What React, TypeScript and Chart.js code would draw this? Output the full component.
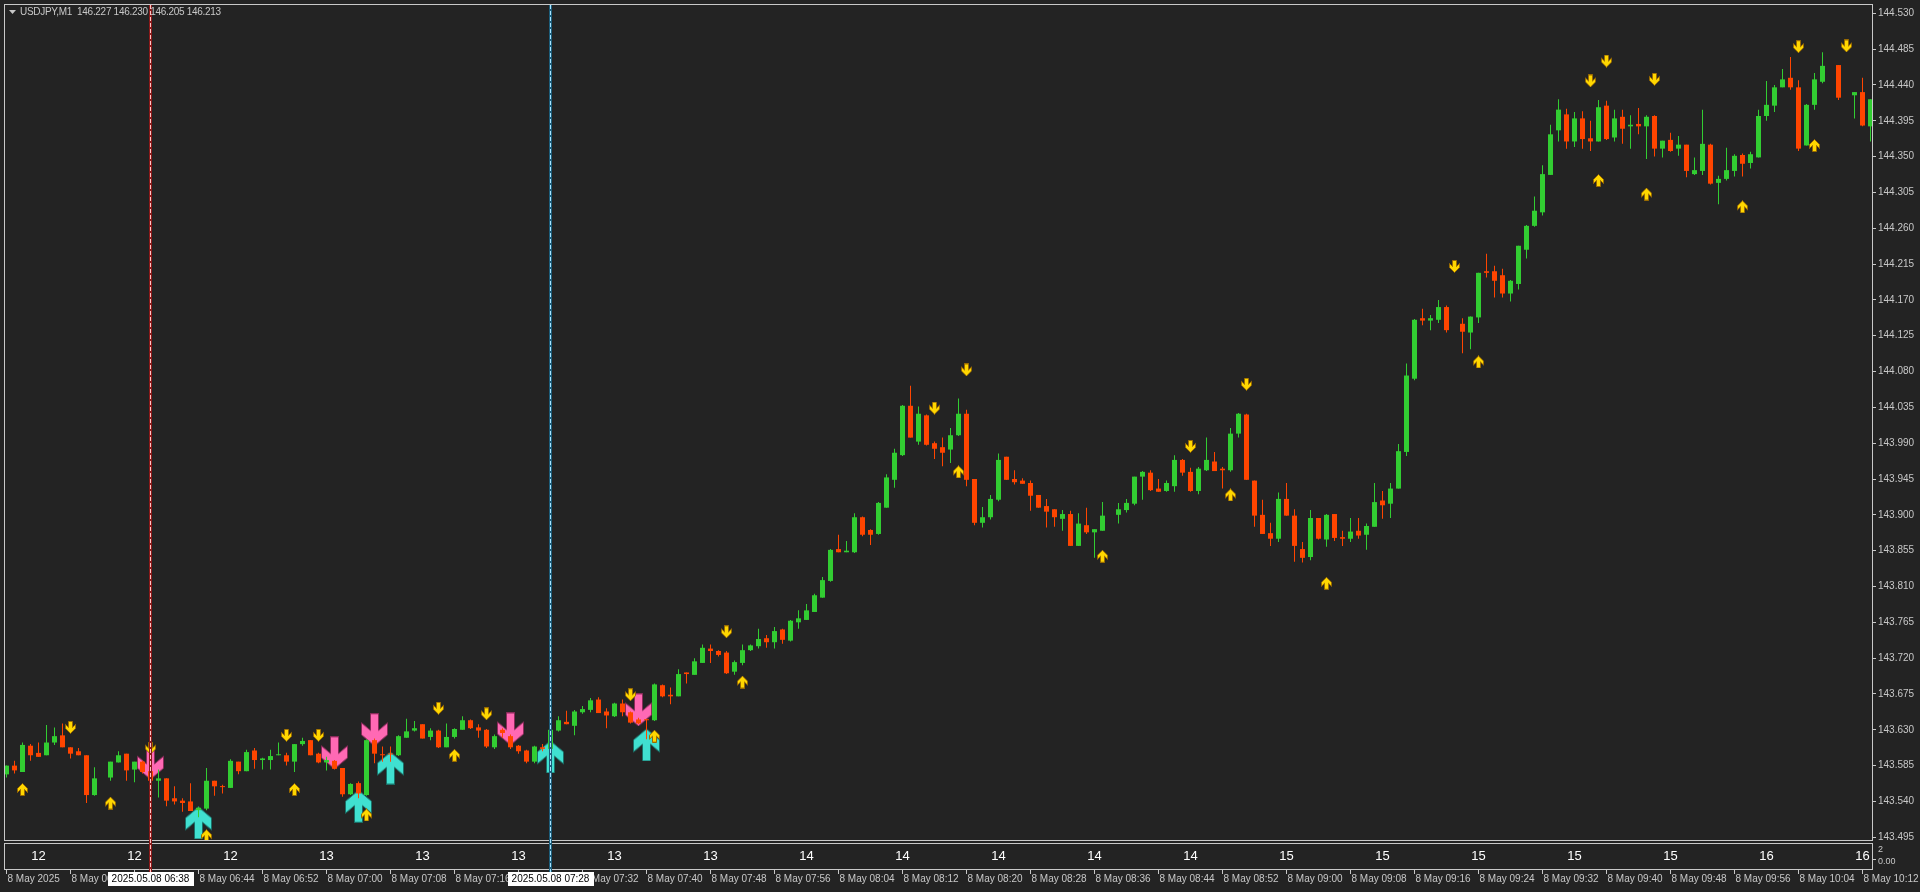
import { useEffect, useRef } from "react";
import { Chart, registerables } from "chart.js";

Chart.register(...registerables);

// ---------- DATA ----------
const headerText = "USDJPY,M1  146.227 146.230 146.205 146.213";

// one-minute bars, index 0 = 06:20 ... 233 = 10:13 (null = no bar drawn)
const opens: (number | null)[] = [
  143.574, 143.585, 143.577, 143.610, 143.601, 143.598, 143.614, 143.623, 143.608, 143.603,
  143.598, 143.548, null, 143.570, 143.589, 143.600, 143.580, 143.590, 143.578, 143.566,
  143.569, 143.544, 143.541, 143.540, 143.529, 143.531, 143.566, 143.559, 143.557, 143.590,
  143.578, 143.604, 143.592, 143.592, 143.598, 143.598, 143.590, 143.612, 143.617, 143.600,
  143.589, 143.591, 143.582, 143.549, 143.563, 143.548, 143.617, 143.599, 143.600, 143.598,
  143.620, 143.629, 143.637, 143.621, 143.629, 143.608, 143.621, 143.630, 143.642, 143.633,
  143.630, 143.608, 143.630, 143.622, 143.610, 143.604, 143.590, 143.608, 143.606, 143.629,
  143.640, 143.635, 143.652, 143.655, 143.668, 143.653, 143.647, 143.663, 143.652, 143.643,
  143.643, 143.642, 143.686, 143.674, 143.672, 143.702, 143.699, 143.714, 143.732, 143.729,
  143.727, 143.703, 143.714, 143.730, 143.735, 143.745, 143.740, 143.756, 143.742, 143.765,
  143.768, 143.778, 143.796, 143.817, 143.857, 143.853, 143.853, 143.897, 143.881, 143.876,
  143.909, 143.944, 143.975, 144.037, 143.992, 144.025, 143.990, 143.985, 143.982, 144.000,
  144.027, 143.945, 143.890, 143.897, 143.919, 143.973, 143.945, 143.943, 143.940, 143.925,
  143.911, 143.907, 143.895, 143.901, 143.861, 143.887, 143.878, 143.880, null, 143.900,
  143.906, 143.914, 143.948, 143.953, 143.933, 143.930, 143.936, 143.969, 143.954, 143.930,
  143.956, 143.967, 143.958, 143.956, 144.002, 144.026, 143.943, 143.900, 143.877, 143.870,
  143.920, 143.899, 143.857, 143.847, 143.896, 143.869, 143.901, 143.872, 143.870, 143.880,
  143.875, 143.885, 143.918, 143.914, 143.933, 143.979, 144.071, 144.147, 144.144, 144.145,
  144.161, null, 144.140, 144.129, 144.148, 144.206, 144.206, 144.201, 144.178, 144.190,
  144.233, 144.263, 144.280, 144.327, 144.383, 144.403, 144.369, 144.398, 144.373, 144.369,
  144.414, 144.374, 144.400, 144.388, 144.391, 144.388, 144.401, 144.360, 144.371, 144.360,
  144.365, 144.328, 144.332, 144.365, 144.317, 144.322, 144.332, 144.352, 144.342, 144.349,
  144.401, 144.414, 144.437, 144.449, 144.437, 144.364, 144.415, 144.444, null, 144.465,
  null, 144.427, 144.431, 144.388,
];
const highs: (number | null)[] = [
  143.585, 143.591, 143.614, 143.612, 143.614, 143.636, 143.633, 143.638, 143.608, 143.607,
  143.598, 143.583, null, 143.590, 143.603, 143.600, 143.590, 143.591, 143.614, 143.580,
  143.569, 143.559, 143.544, 143.563, 143.533, 143.582, 143.566, 143.561, 143.593, 143.590,
  143.605, 143.607, 143.595, 143.605, 143.614, 143.601, 143.612, 143.620, 143.617, 143.601,
  143.596, 143.592, 143.582, 143.563, 143.565, 143.618, 143.619, 143.609, 143.609, 143.623,
  143.644, 143.641, 143.637, 143.632, 143.630, 143.638, 143.632, 143.647, 143.643, 143.637,
  143.631, 143.624, 143.632, 143.624, 143.611, 143.605, 143.610, 143.612, 143.632, 143.647,
  143.654, 143.655, 143.660, 143.670, 143.671, 143.657, 143.664, 143.668, 143.653, 143.645,
  143.644, 143.688, 143.687, 143.683, 143.706, 143.702, 143.720, 143.737, 143.737, 143.730,
  143.729, 143.717, 143.737, 143.737, 143.757, 143.749, 143.759, 143.757, 143.768, 143.780,
  143.788, 143.801, 143.822, 143.857, 143.875, 143.867, 143.902, 143.898, 143.882, 143.916,
  143.951, 143.983, 144.038, 144.062, 144.036, 144.026, 143.992, 143.997, 144.009, 144.046,
  144.032, 143.945, 143.910, 143.925, 143.977, 143.973, 143.956, 143.946, 143.943, 143.925,
  143.920, 143.907, 143.906, 143.905, 143.902, 143.909, 143.882, 143.916, null, 143.915,
  143.920, 143.948, 143.955, 143.956, 143.945, 143.943, 143.975, 143.970, 143.959, 143.960,
  143.997, 143.979, 143.960, 144.009, 144.028, 144.027, 143.943, 143.919, 143.890, 143.928,
  143.940, 143.907, 143.866, 143.906, 143.896, 143.901, 143.901, 143.880, 143.896, 143.896,
  143.889, 143.940, 143.930, 143.940, 143.989, 144.090, 144.146, 144.159, 144.151, 144.170,
  144.163, null, 144.147, 144.149, 144.204, 144.228, 144.213, 144.209, 144.195, 144.238,
  144.264, 144.300, 144.339, 144.390, 144.422, 144.410, 144.406, 144.407, 144.395, 144.421,
  144.420, 144.409, 144.409, 144.402, 144.411, 144.402, 144.402, 144.370, 144.380, 144.376,
  144.365, 144.349, 144.409, 144.366, 144.326, 144.361, 144.353, 144.354, 144.356, 144.409,
  144.445, 144.440, 144.460, 144.475, 144.446, 144.416, 144.455, 144.481, null, 144.465,
  null, 144.431, 144.449, 144.422,
];
const lows: (number | null)[] = [
  143.570, 143.575, 143.577, 143.591, 143.596, 143.598, 143.611, 143.608, 143.594, 143.598,
  143.538, 143.547, null, 143.566, 143.589, 143.566, 143.564, 143.575, 143.566, 143.545,
  143.534, 143.536, 143.527, 143.528, 143.520, 143.529, 143.547, 143.550, 143.557, 143.574,
  143.578, 143.581, 143.580, 143.580, 143.598, 143.585, 143.577, 143.610, 143.598, 143.588,
  143.579, 143.580, 143.546, 143.548, 143.544, 143.547, 143.588, 143.590, 143.590, 143.597,
  143.620, 143.628, 143.619, 143.617, 143.607, 143.608, 143.619, 143.630, 143.631, 143.620,
  143.607, 143.606, 143.620, 143.606, 143.600, 143.588, 143.588, 143.603, 143.604, 143.628,
  143.637, 143.623, 143.650, 143.652, 143.651, 143.632, 143.646, 143.647, 143.638, 143.637,
  143.618, 143.641, 143.671, 143.662, 143.672, 143.688, 143.699, 143.714, 143.714, 143.722,
  143.700, 143.699, 143.711, 143.729, 143.732, 143.733, 143.732, 143.738, 143.741, 143.757,
  143.768, 143.778, 143.796, 143.816, 143.853, 143.853, 143.852, 143.873, 143.862, 143.875,
  143.909, 143.934, 143.974, 143.997, 143.988, 143.987, 143.970, 143.961, 143.965, 143.999,
  143.936, 143.887, 143.884, 143.894, 143.917, 143.944, 143.938, 143.939, 143.905, 143.909,
  143.884, 143.885, 143.880, 143.861, 143.861, 143.876, 143.846, 143.880, null, 143.889,
  143.903, 143.912, 143.919, 143.930, 143.929, 143.929, 143.929, 143.949, 143.929, 143.926,
  143.955, 143.955, 143.933, 143.954, 143.997, 143.944, 143.885, 143.876, 143.861, 143.866,
  143.899, 143.841, 143.840, 143.843, 143.869, 143.860, 143.867, 143.861, 143.866, 143.870,
  143.856, 143.885, 143.895, 143.896, 143.933, 143.974, 144.069, 144.138, 144.132, 144.141,
  144.129, null, 144.103, 144.108, 144.141, 144.198, 144.173, 144.173, 144.168, 144.183,
  144.222, 144.262, 144.276, 144.327, 144.369, 144.360, 144.362, 144.360, 144.357, 144.369,
  144.371, 144.369, 144.366, 144.360, 144.378, 144.347, 144.350, 144.349, 144.356, 144.351,
  144.324, 144.327, 144.327, 144.315, 144.290, 144.320, 144.325, 144.325, 144.335, 144.349,
  144.395, 144.406, 144.437, 144.434, 144.357, 144.364, 144.409, 144.442, null, 144.421,
  null, 144.398, 144.388, 144.369,
];
const closes: (number | null)[] = [
  143.585, 143.579, 143.611, 143.598, 143.596, 143.614, 143.622, 143.608, 143.600, 143.598,
  143.548, 143.569, null, 143.590, 143.598, 143.579, 143.590, 143.577, 143.566, 143.569,
  143.541, 143.540, 143.538, 143.528, 143.532, 143.566, 143.559, 143.558, 143.591, 143.578,
  143.602, 143.592, 143.594, 143.597, 143.599, 143.590, 143.612, 143.616, 143.598, 143.589,
  143.592, 143.581, 143.549, 143.562, 143.550, 143.617, 143.600, 143.598, 143.599, 143.622,
  143.628, 143.632, 143.619, 143.629, 143.608, 143.621, 143.631, 143.642, 143.632, 143.629,
  143.609, 143.622, 143.626, 143.608, 143.603, 143.590, 143.609, 143.606, 143.630, 143.642,
  143.637, 143.653, 143.656, 143.667, 143.651, 143.648, 143.663, 143.652, 143.639, 143.638,
  143.642, 143.687, 143.672, 143.672, 143.700, 143.700, 143.716, 143.733, 143.729, 143.724,
  143.701, 143.715, 143.730, 143.736, 143.744, 143.740, 143.754, 143.743, 143.767, 143.770,
  143.780, 143.799, 143.818, 143.856, 143.853, 143.855, 143.897, 143.875, 143.875, 143.915,
  143.947, 143.978, 144.037, 143.997, 144.027, 143.988, 143.983, 143.978, 144.000, 144.027,
  143.944, 143.890, 143.897, 143.920, 143.969, 143.944, 143.941, 143.939, 143.924, 143.909,
  143.904, 143.897, 143.901, 143.861, 143.889, 143.878, 143.882, 143.899, null, 143.907,
  143.915, 143.948, 143.954, 143.931, 143.929, 143.940, 143.969, 143.953, 143.930, 143.958,
  143.969, 143.955, 143.956, 144.002, 144.027, 143.944, 143.899, 143.876, 143.870, 143.920,
  143.899, 143.861, 143.846, 143.896, 143.870, 143.900, 143.871, 143.870, 143.879, 143.874,
  143.886, 143.916, 143.912, 143.933, 143.980, 144.075, 144.145, 144.144, 144.147, 144.161,
  144.132, null, 144.130, 144.149, 144.204, 144.204, 144.194, 144.178, 144.194, 144.238,
  144.263, 144.282, 144.328, 144.378, 144.409, 144.369, 144.398, 144.372, 144.369, 144.412,
  144.372, 144.398, 144.385, 144.390, 144.388, 144.400, 144.360, 144.370, 144.357, 144.365,
  144.332, 144.333, 144.366, 144.316, 144.322, 144.333, 144.351, 144.341, 144.353, 144.401,
  144.415, 144.437, 144.447, 144.437, 144.360, 144.415, 144.447, 144.464, null, 144.424,
  null, 144.431, 144.389, 144.422,
];

const priceTicks = [
  143.495, 143.54, 143.585, 143.63, 143.675, 143.72, 143.765, 143.81, 143.855, 143.9,
  143.945, 143.99, 144.035, 144.08, 144.125, 144.17, 144.215, 144.26, 144.305, 144.35,
  144.395, 144.44, 144.485, 144.53,
];

// time scale labels, one every 8 bars starting at bar 0
const timeLabels = [
  "8 May 2025", "8 May 06:28", "8 May 06:36", "8 May 06:44", "8 May 06:52", "8 May 07:00",
  "8 May 07:08", "8 May 07:16", "8 May 07:24", "8 May 07:32", "8 May 07:40", "8 May 07:48",
  "8 May 07:56", "8 May 08:04", "8 May 08:12", "8 May 08:20", "8 May 08:28", "8 May 08:36",
  "8 May 08:44", "8 May 08:52", "8 May 09:00", "8 May 09:08", "8 May 09:16", "8 May 09:24",
  "8 May 09:32", "8 May 09:40", "8 May 09:48", "8 May 09:56", "8 May 10:04", "8 May 10:12",
];
const timeLabelStep = 8;

// sub-window values, one every 12 bars starting at bar 4
const subValues = [12, 12, 12, 13, 13, 13, 13, 13, 14, 14, 14, 14, 14, 15, 15, 15, 15, 15, 16, 16];
const subStart = 4;
const subStep = 12;
const subScaleLabels = ["2", "0.00"];

// small yellow signal arrows
const downBars = [8, 18, 35, 39, 54, 60, 78, 90, 116, 120, 148, 155, 181, 198, 200, 206, 224, 230];
const downPrices = [143.633, 143.607, 143.623, 143.623, 143.657, 143.65, 143.674, 143.753, 144.034, 144.082, 143.986, 144.064, 144.212, 144.445, 144.47, 144.447, 144.488, 144.489];
const upBars = [2, 13, 25, 36, 45, 56, 81, 92, 119, 137, 153, 165, 184, 199, 205, 217, 226];
const upPrices = [143.555, 143.538, 143.497, 143.555, 143.523, 143.598, 143.622, 143.69, 143.954, 143.848, 143.925, 143.814, 144.092, 144.32, 144.303, 144.287, 144.364];

// big arrows
const pinkBars = [18, 41, 46, 63, 79];
const pinkPrices = [143.588, 143.601, 143.63, 143.631, 143.655];
const cyanBars = [24, 44, 48, 68, 80];
const cyanPrices = [143.513, 143.534, 143.582, 143.596, 143.611];

// vertical marker lines
const markerBars = [18, 68];
const markerLabels = ["2025.05.08 06:38", "2025.05.08 07:28"];

// ---------- STYLE ----------
const BG = "#232323";
const FG = "#c8c8c8";
const BULL = "#32cd32";
const BEAR = "#ff4500";
const FONT = "'Liberation Sans', Arial, sans-serif";
const markerBand = ["#8b1a1a", "#1d5d7a"];
const markerDash = ["#ffc4c4", "#a8e4ff"];
const X_MIN = -0.3125;
const X_MAX = 233.1875;

function makeArrow(
  w: number, h: number, shaft: number, depth: number, thick: number,
  fill: string, stroke: string, up: boolean
): HTMLCanvasElement {
  const c = document.createElement("canvas");
  c.width = w;
  c.height = h;
  const ctx = c.getContext("2d")!;
  const xL = 0.5, xR = w - 0.5, cx = w / 2, half = (xR - xL) / 2, s = shaft / 2;
  const tip = h - 0.5;
  const wb = tip - depth;
  const wt = wb - thick;
  const jy = wt + (depth * (half - s)) / half;
  const pts: [number, number][] = [
    [cx - s, 0.5], [cx + s, 0.5], [cx + s, jy], [xR, wt], [xR, wb],
    [cx, tip], [xL, wb], [xL, wt], [cx - s, jy],
  ];
  ctx.beginPath();
  pts.forEach(([x, y], i) => {
    const yy = up ? h - y : y;
    if (i === 0) ctx.moveTo(x, yy);
    else ctx.lineTo(x, yy);
  });
  ctx.closePath();
  ctx.fillStyle = fill;
  ctx.fill();
  ctx.strokeStyle = stroke;
  ctx.lineWidth = 1;
  ctx.stroke();
  return c;
}

const decorPlugin = {
  id: "mtDecor",
  beforeDraw(chart: any) {
    const ctx = chart.ctx;
    ctx.save();
    ctx.fillStyle = BG;
    ctx.fillRect(0, 0, chart.width, chart.height);
    ctx.restore();
  },
  afterDraw(chart: any) {
    const ctx: any = chart.ctx;
    const xs = chart.scales.x;
    const ca = chart.chartArea;
    const px = (k: number) => Math.floor(xs.getPixelForValue(k)) + 0.5;
    ctx.save();
    // main frame
    ctx.strokeStyle = FG;
    ctx.lineWidth = 1;
    ctx.strokeRect(ca.left + 0.5, ca.top + 0.5, ca.right - ca.left, ca.bottom - ca.top);
    // sub window frame
    const subTop = ca.bottom + 3;
    const subBottom = subTop + 26;
    ctx.strokeRect(ca.left + 0.5, subTop + 0.5, ca.right - ca.left, subBottom - subTop);

    // marker lines
    markerBars.forEach((k, i) => {
      const x = px(k);
      ctx.fillStyle = markerBand[i];
      ctx.fillRect(x - 1.5, ca.top + 1, 3, subBottom + 2 - ca.top);
      ctx.strokeStyle = markerDash[i];
      ctx.setLineDash([4, 2]);
      ctx.beginPath();
      ctx.moveTo(x, ca.top + 1);
      ctx.lineTo(x, subBottom + 3);
      ctx.stroke();
      ctx.setLineDash([]);
    });

    // sub window values
    ctx.fillStyle = "#ffffff";
    ctx.font = `13px ${FONT}`;
    ctx.textAlign = "center";
    ctx.textBaseline = "middle";
    subValues.forEach((v, i) => {
      const k = subStart + i * subStep;
      ctx.fillText(String(v), xs.getPixelForValue(k), subTop + 13);
    });
    // sub window scale
    ctx.fillStyle = FG;
    ctx.font = `9px ${FONT}`;
    ctx.textAlign = "left";
    ctx.fillText(subScaleLabels[0], ca.right + 6, subTop + 7);
    ctx.fillText(subScaleLabels[1], ca.right + 6, subTop + 19);
    ctx.strokeStyle = FG;
    ctx.beginPath();
    ctx.moveTo(ca.right, subTop + 16.5);
    ctx.lineTo(ca.right + 4, subTop + 16.5);
    ctx.stroke();

    // time axis
    ctx.font = `10px ${FONT}`;
    ctx.fillStyle = FG;
    ctx.textAlign = "left";
    ctx.textBaseline = "middle";
    timeLabels.forEach((t, i) => {
      const k = i * timeLabelStep;
      const x = px(k);
      ctx.beginPath();
      ctx.moveTo(x, subBottom + 1);
      ctx.lineTo(x, subBottom + 5);
      ctx.stroke();
      ctx.fillText(t, x + 1, subBottom + 10);
    });

    // marker time boxes
    markerBars.forEach((k, i) => {
      const x = px(k);
      const tw = ctx.measureText(markerLabels[i]).width;
      const bw = Math.round(tw + 8);
      ctx.fillStyle = "#ffffff";
      ctx.fillRect(Math.round(x - bw / 2), subBottom + 3, bw, 14);
      ctx.fillStyle = "#000000";
      ctx.textAlign = "center";
      ctx.fillText(markerLabels[i], x, subBottom + 10.5);
    });

    // header
    ctx.fillStyle = FG;
    ctx.beginPath();
    ctx.moveTo(9, 10);
    ctx.lineTo(16, 10);
    ctx.lineTo(12.5, 14);
    ctx.closePath();
    ctx.fill();
    ctx.font = `10px ${FONT}`;
    ctx.textAlign = "left";
    ctx.textBaseline = "middle";
    if ("letterSpacing" in ctx) ctx.letterSpacing = "-0.3px";
    ctx.fillText(headerText, 20, 12);
    if ("letterSpacing" in ctx) ctx.letterSpacing = "0px";
    ctx.restore();
  },
};

export default function App() {
  const ref = useRef<HTMLCanvasElement | null>(null);
  useEffect(() => {
    document.body.style.margin = "0";
    document.body.style.background = BG;
    const canvas = ref.current!;
    const idx = opens.map((_, i) => i).filter((i) => opens[i] !== null);
    const colors = idx.map((i) => ((closes[i] as number) >= (opens[i] as number) ? BULL : BEAR));

    const yellowDown = makeArrow(11, 13, 4, 5, 4, "#ffd700", "#9a6a00", false);
    const yellowUp = makeArrow(11, 13, 4, 5, 4, "#ffd700", "#9a6a00", true);
    const pinkDown = makeArrow(27, 33, 8, 11, 12, "#ff69b4", "#8a2a5a", false);
    const cyanUp = makeArrow(27, 33, 8, 11, 12, "#40e0d0", "#1a7068", true);

    const chart = new Chart(canvas, {
      type: "bar",
      data: {
        datasets: [
          {
            type: "bar",
            data: idx.map((i) => ({ x: i, y: [lows[i], highs[i]] })) as any,
            backgroundColor: colors,
            borderWidth: 0,
            grouped: false,
            maxBarThickness: 1,
            inflateAmount: 0,
            order: 2,
          } as any,
          {
            type: "bar",
            data: idx.map((i) => ({ x: i, y: [opens[i], closes[i]] })) as any,
            backgroundColor: colors,
            borderWidth: 0,
            grouped: false,
            maxBarThickness: 5,
            minBarLength: 1,
            inflateAmount: 0,
            order: 1,
          } as any,
          {
            type: "scatter",
            data: downBars.map((k, i) => ({ x: k, y: downPrices[i] })),
            pointStyle: yellowDown,
            pointRadius: 6,
            order: 4,
          } as any,
          {
            type: "scatter",
            data: upBars.map((k, i) => ({ x: k, y: upPrices[i] })),
            pointStyle: yellowUp,
            pointRadius: 6,
            order: 4,
          } as any,
          {
            type: "scatter",
            data: pinkBars.map((k, i) => ({ x: k, y: pinkPrices[i] })),
            pointStyle: pinkDown,
            pointRadius: 14,
            order: 5,
          } as any,
          {
            type: "scatter",
            data: cyanBars.map((k, i) => ({ x: k, y: cyanPrices[i] })),
            pointStyle: cyanUp,
            pointRadius: 14,
            order: 5,
          } as any,
        ],
      },
      options: {
        animation: false,
        responsive: false,
        devicePixelRatio: 1,
        events: [],
        layout: { autoPadding: false, padding: { left: 4, top: 4, right: 0, bottom: 52 } },
        plugins: { legend: { display: false }, tooltip: { enabled: false } },
        scales: {
          x: {
            type: "linear",
            display: false,
            offset: false,
            grace: 0,
            bounds: "data",
            min: X_MIN,
            max: X_MAX,
            afterDataLimits: (scale: any) => {
              scale.min = X_MIN;
              scale.max = X_MAX;
            },
          },
          y: {
            type: "linear",
            position: "right",
            min: 143.49156,
            max: 144.54168,
            afterBuildTicks: (scale: any) => {
              scale.ticks = priceTicks.map((v) => ({ value: v }));
            },
            afterFit: (scale: any) => {
              scale.width = 48;
              scale.paddingTop = 0;
              scale.paddingBottom = 0;
            },
            grid: {
              drawOnChartArea: false,
              drawTicks: true,
              tickLength: 4,
              color: FG,
            },
            border: { display: true, color: FG },
            ticks: {
              autoSkip: false,
              padding: 2,
              color: FG,
              font: { family: FONT, size: 10 },
              callback: (v: any) => Number(v).toFixed(3),
            },
          },
        },
      },
      plugins: [decorPlugin],
    } as any);
    return () => chart.destroy();
  }, []);

  return (
    <div style={{ position: "fixed", left: 0, top: 0, width: 1920, height: 892, background: BG }}>
      <canvas ref={ref} width={1920} height={892} style={{ width: 1920, height: 892, display: "block" }} />
    </div>
  );
}
